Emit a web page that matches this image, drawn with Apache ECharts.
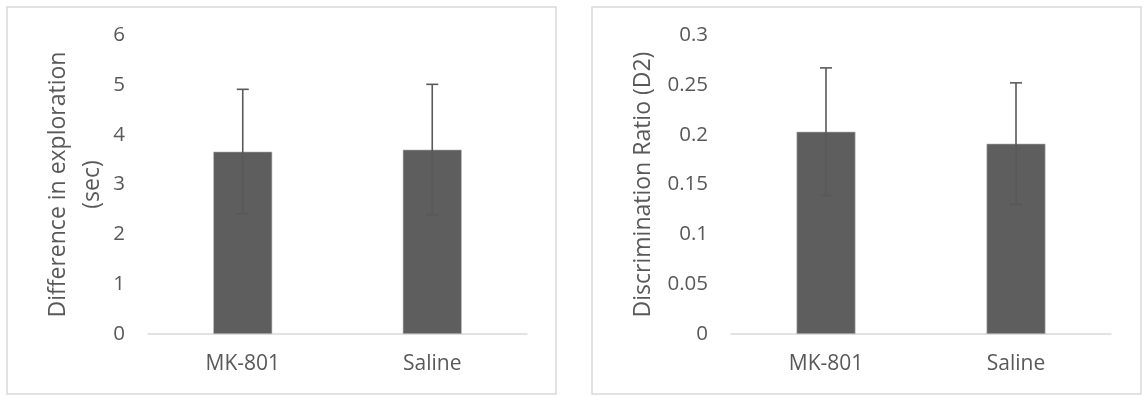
<!DOCTYPE html>
<html>
<head>
<meta charset="utf-8">
<script src="https://cdn.jsdelivr.net/npm/echarts@6/dist/echarts.min.js"></script>
<style>
html,body{margin:0;padding:0;background:#fff;}
#c{width:1144px;height:396px;}
</style>
</head>
<body>
<div id="c"></div>
<script>
const categories = ['MK-801', 'Saline'];
const explorationMeans = [3.66, 3.70];
const explorationErrors = [1.25, 1.31];
const ratioMeans = [0.203, 0.191];
const ratioErrors = [0.064, 0.061];
const explorationTicks = [0, 6, 1];
const ratioTicks = [0, 0.3, 0.05];
const leftTitle = 'Difference in exploration\n(sec)';
const rightTitle = 'Discrimination Ratio (D2)';

const FONT = 'Open Sans';
const TXT = '#595959';
const BAR = '#5e5e5e';
const LINE = '#d9d9d9';

function errData(means, errs) {
  return means.map((m, i) => [i, m - errs[i], m + errs[i]]);
}
function errRender(params, api) {
  const x = api.value(0);
  const lo = api.coord([x, api.value(1)]);
  const hi = api.coord([x, api.value(2)]);
  const w = 6;
  const st = { stroke: '#595959', lineWidth: 1.6 };
  return {
    type: 'group',
    children: [
      { type: 'line', shape: { x1: hi[0], y1: hi[1], x2: lo[0], y2: lo[1] }, style: st },
      { type: 'line', shape: { x1: hi[0] - w, y1: hi[1], x2: hi[0] + w, y2: hi[1] }, style: st },
      { type: 'line', shape: { x1: lo[0] - w, y1: lo[1], x2: lo[0] + w, y2: lo[1] }, style: st }
    ]
  };
}
function xAx(gi) {
  return {
    type: 'category', gridIndex: gi, data: categories,
    axisLine: { show: true, lineStyle: { color: LINE, width: 1.5 } },
    axisTick: { show: false },
    axisLabel: { color: TXT, fontFamily: FONT, fontSize: 21, margin: 20 }
  };
}
function yAx(gi, t, name, gap) {
  return {
    type: 'value', gridIndex: gi, min: t[0], max: t[1], interval: t[2],
    name: name, nameLocation: 'middle', nameRotate: 90, nameGap: gap,
    nameTextStyle: { color: TXT, fontFamily: FONT, fontSize: 23, lineHeight: 34 },
    axisLine: { show: false }, axisTick: { show: false }, splitLine: { show: false },
    axisLabel: { color: TXT, fontFamily: FONT, fontSize: 20.5, margin: 23 }
  };
}

const chart = echarts.init(document.getElementById('c'), null, { renderer: 'canvas' });
chart.setOption({
  animation: false,
  backgroundColor: '#fff',
  graphic: [
    { type: 'rect', shape: { x: 7, y: 7, width: 549, height: 387 }, style: { fill: 'none', stroke: LINE, lineWidth: 1.5 } },
    { type: 'rect', shape: { x: 592, y: 7, width: 549, height: 387 }, style: { fill: 'none', stroke: LINE, lineWidth: 1.5 } }
  ],
  grid: [
    { left: 148, right: 617, top: 35, bottom: 62 },
    { left: 731, right: 33, top: 35, bottom: 62 }
  ],
  xAxis: [xAx(0), xAx(1)],
  yAxis: [yAx(0, explorationTicks, leftTitle, 39), yAx(1, ratioTicks, rightTitle, 71)],
  series: [
    { type: 'bar', xAxisIndex: 0, yAxisIndex: 0, data: explorationMeans, barWidth: 59,
      itemStyle: { color: BAR, borderColor: '#bdbdbd', borderWidth: 0.6 } },
    { type: 'custom', xAxisIndex: 0, yAxisIndex: 0, data: errData(explorationMeans, explorationErrors), renderItem: errRender, z: 5 },
    { type: 'bar', xAxisIndex: 1, yAxisIndex: 1, data: ratioMeans, barWidth: 59,
      itemStyle: { color: BAR, borderColor: '#bdbdbd', borderWidth: 0.6 } },
    { type: 'custom', xAxisIndex: 1, yAxisIndex: 1, data: errData(ratioMeans, ratioErrors), renderItem: errRender, z: 5 }
  ]
});
</script>
</body>
</html>
